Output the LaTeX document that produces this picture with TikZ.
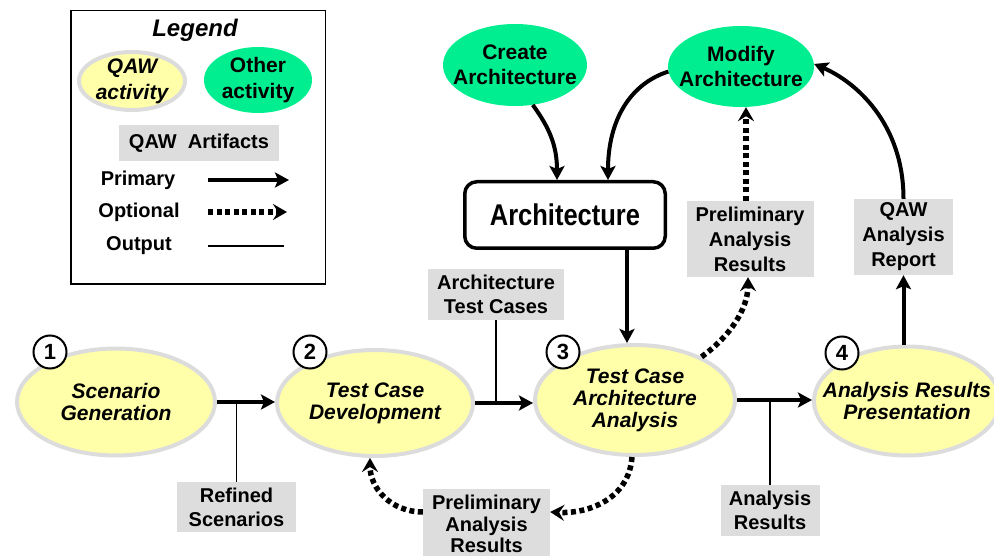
\documentclass[tikz,border=0pt]{standalone}
\usepackage{fontspec}
\setmainfont{Liberation Sans}
\newfontfamily\narrowfont[FakeStretch=0.85]{Liberation Sans}
\usetikzlibrary{arrows.meta,shapes.geometric,positioning,calc}

\definecolor{qawyellow}{RGB}{255,255,170}
\definecolor{qawgray}{RGB}{220,220,220}
\definecolor{othergreen}{RGB}{0,238,144}
\definecolor{artgray}{RGB}{221,221,221}

\tikzset{
  acttext/.style={font=\fontsize{21}{22}\selectfont\bfseries\itshape, align=center, inner sep=0pt},
  othertext/.style={font=\fontsize{21}{25}\selectfont\bfseries, align=center, inner sep=0pt},
  qaw/.style={ellipse, draw=qawgray, line width=4pt, fill=qawyellow, inner sep=0pt,
    label={[acttext]center:#1}},
  other/.style={ellipse, fill=othergreen, inner sep=0pt, label={[othertext]center:#1}},
  artifact/.style={fill=artgray, inner sep=0pt, align=center,
    font=\fontsize{20}{24}\selectfont\bfseries},
  stepnum/.style={circle, draw, line width=2pt, fill=white, minimum size=33pt,
    inner sep=0pt, font=\fontsize{22}{22}\selectfont\bfseries},
  lgtext/.style={inner sep=0pt, font=\fontsize{20}{20}\selectfont\bfseries},
  primary/.style={line width=4pt, -{Stealth[length=14pt,width=15pt,inset=3pt]}},
  optional/.style={line width=5.5pt, dash pattern=on 5pt off 3.5pt,
    -{Stealth[length=14pt,width=16pt,inset=5pt]}},
  output/.style={line width=1.5pt},
}

\begin{document}
\begin{tikzpicture}[x=1pt,y=-1pt]
  \useasboundingbox (0,0) rectangle (994,556);

  % legend
  \node [draw, line width=1.5pt, minimum width=254.5, minimum height=273.5] (legend) at (198,147.5) {};
  \node [font=\fontsize{24}{24}\selectfont\bfseries\itshape] (lgtitle) at (195,30) {Legend};
  \node [qaw={QAW\\[4pt]activity}, minimum width=106, minimum height=58] (lgqaw) at (132,81) {};
  \node [other={Other\\[1pt]activity}, minimum width=108, minimum height=66] (lgother) at (258,80) {};
  \node [artifact, minimum width=160, minimum height=36] (lgart) at (199,143) {QAW~~Artifacts};
  \node [lgtext] (lgprim) at (138,180) {Primary};
  \node [lgtext] (lgopt) at (139,212) {Optional};
  \node [lgtext] (lgout) at (139,246) {Output};
  \coordinate (lgx) at (208,0);
  \draw [primary] (lgprim.center -| lgx) -- +(81,0);
  \draw [optional] (lgopt.center -| lgx) -- +(79,0);
  \draw [output] (lgout.center -| lgx) -- +(76,0);

  % activities
  \node [qaw={Scenario\\Generation}, minimum width=198, minimum height=107] (scen) at (116,402) {};
  \node [qaw={Test Case\\Development}, minimum width=196, minimum height=106] (dev) at (375,403) {};
  \node [qaw={Test Case\\Architecture\\Analysis}, minimum width=200, minimum height=110] (ana) at (635,400) {};
  \node [qaw={Analysis Results\\Presentation}, minimum width=186, minimum height=109] (pres) at (907,401) {};
  \node [stepnum] (n1) at (50,352) {1};
  \node [stepnum] (n2) at (310,352) {2};
  \node [stepnum] (n3) at (563,352) {3};
  \node [stepnum] (n4) at (842,353) {4};

  \node [other={Create\\Architecture}, minimum width=144, minimum height=82] (create) at (515,65) {};
  \node [other={Modify\\Architecture}, minimum width=146, minimum height=81] (modify) at (741,66.5) {};
  \node [draw, line width=3.5pt, rounded corners=12pt, minimum width=200.5, minimum height=66.5,
    font=\fontsize{30}{30}\selectfont\narrowfont\bfseries] (arch) at (565,215) {Architecture};

  % artifacts
  \node [artifact, minimum width=119, minimum height=50] (refined) at (236.5,507) {Refined\\Scenarios};
  \node [artifact, minimum width=136, minimum height=51] (atc) at (496,294.5) {Architecture\\Test Cases};
  \node [artifact, minimum width=99, minimum height=51] (ares) at (770,510.5) {Analysis\\Results};
  \node [artifact, minimum width=127, minimum height=76, font=\fontsize{20}{25}\selectfont\bfseries] (prelimtop) at (750,239) {Preliminary\\Analysis\\Results};
  \node [artifact, minimum width=99, minimum height=76, font=\fontsize{20}{25}\selectfont\bfseries] (report) at (903.5,237) {QAW\\Analysis\\Report};
  \node [artifact, minimum width=127, minimum height=70, font=\fontsize{20}{21.5}\selectfont\bfseries] (prelimbot) at (486.5,524) {Preliminary\\Analysis\\Results};

  % main flow
  \draw [primary] (scen.east) -- (scen.east -| dev.west);
  \draw [output] (refined.north) -- (refined.north |- scen.east);
  \draw [primary] (dev.east) -- (dev.east -| ana.west);
  \draw [output] (atc.south) -- (atc.south |- dev.east);
  \draw [primary] (ana.east) -- (ana.east -| pres.west);
  \draw [output] (ares.north) -- (ares.north |- ana.east);
  \draw [primary] ([xshift=62pt]arch.south) coordinate (a3) -- (a3 |- ana.north);
  \draw [primary] (report.south |- pres.north) -- (report.south);

  % architecture loop
  \draw [primary] (create.-66) .. controls +(16,22) and +(0,-35) .. ([xshift=-8pt]arch.north);
  \draw [primary] (modify.184) .. controls +(-38,12) and +(0,-60) .. ([xshift=43pt]arch.north);
  \draw [primary] (report.north) .. controls +(0,-75) and +(42,18) .. (modify.2);

  % optional feedback
  \draw [optional] ([xshift=-4pt]prelimtop.north) -- ([xshift=-4pt]prelimtop.north |- modify.south);
  \draw [optional] (ana.33) .. controls +(28,-20) and +(0,32) .. ([xshift=-2pt]prelimtop.south);
  \draw [optional] ([xshift=-3pt]ana.south) .. controls +(-3,42) and +(38,2) .. ([yshift=12pt]prelimbot.east);
  \draw [optional] ([yshift=12pt]prelimbot.west) .. controls +(-32,0) and +(0,30) .. ([xshift=-5pt]dev.south);
\end{tikzpicture}
\end{document}
